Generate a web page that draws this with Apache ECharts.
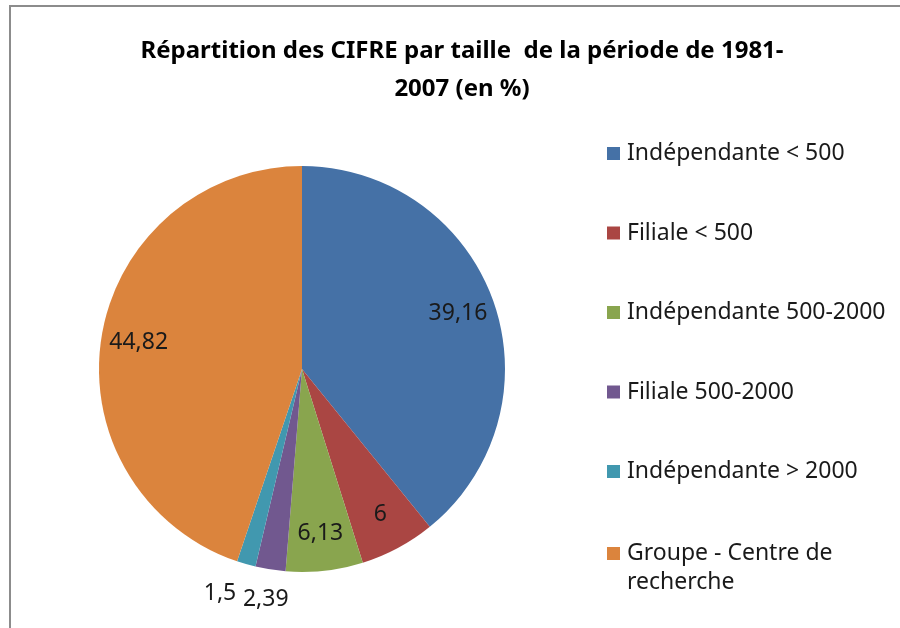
<!DOCTYPE html>
<html>
<head>
<meta charset="utf-8">
<script src="https://cdn.jsdelivr.net/npm/echarts@6/dist/echarts.min.js"></script>
<style>
  html, body { margin: 0; padding: 0; background: #fff; }
  #chart { width: 900px; height: 628px; }
</style>
</head>
<body>
<div id="chart"></div>
<script>
// categories and values (percent)
var categories = ['Indépendante < 500', 'Filiale < 500', 'Indépendante 500-2000',
                  'Filiale 500-2000', 'Indépendante > 2000', 'Groupe - Centre de recherche'];
var values = [39.16, 6, 6.13, 2.39, 1.5, 44.82];
var labelsText = ['39,16', '6', '6,13', '2,39', '1,5', '44,82'];
var colors = ['#4571A6', '#AA4643', '#89A54E', '#71588F', '#4198AF', '#DB843D'];
// small slices get their label outside
var outsideLabel = [false, false, false, true, true, false];

var FONT = '"Noto Sans", sans-serif';

var myChart = echarts.init(document.getElementById('chart'));

var mainData = [], ringData = [];
for (var i = 0; i < categories.length; i++) {
    mainData.push({
        name: categories[i],
        value: values[i],
        itemStyle: { color: colors[i] },
        label: { show: outsideLabel[i], formatter: labelsText[i] },
        // teal label sits a bit further left than the purple one
        labelLine: { length2: i === 4 ? 18 : 0 }
    });
    ringData.push({
        name: categories[i],
        value: values[i],
        label: { show: !outsideLabel[i], formatter: labelsText[i] }
    });
}

var legendText = {
    fontFamily: FONT,
    fontSize: 23,
    color: '#1a1a1a',
    lineHeight: 29,
    padding: [0, 0, 0, 2]
};

var option = {
    animation: false,
    color: colors,
    title: {
        text: 'Répartition des CIFRE par taille  de la période de 1981-\n2007 (en %)',
        left: 457,
        top: 27,
        textAlign: 'center',
        textStyle: {
            fontFamily: FONT,
            fontSize: 24,
            fontWeight: 'bold',
            color: '#000',
            lineHeight: 38
        }
    },
    legend: [
        {
            orient: 'vertical',
            left: 602,
            top: 134,
            itemWidth: 13,
            itemHeight: 13,
            itemGap: 50.5,
            icon: 'rect',
            data: categories.slice(0, 5),
            textStyle: legendText
        },
        {
            // last entry wraps on two lines, icon stays on the first one
            orient: 'vertical',
            left: 602,
            top: 505,
            itemWidth: 13,
            itemHeight: 13,
            icon: 'rect',
            data: categories.slice(5),
            formatter: function (name) {
                return '\nGroupe - Centre de\nrecherche';
            },
            textStyle: legendText
        }
    ],
    graphic: [{
        type: 'rect',
        shape: { x: 10, y: 6, width: 1000, height: 700 },
        style: { fill: 'none', stroke: '#8c8c8c', lineWidth: 2 },
        silent: true,
        z: -10
    }],
    series: [
        {
            name: 'CIFRE',
            type: 'pie',
            center: [302, 369],
            radius: [0, 203],
            startAngle: 90,
            clockwise: true,
            avoidLabelOverlap: false,
            data: mainData,
            label: {
                position: 'outside',
                fontFamily: FONT,
                fontSize: 23,
                color: '#1a1a1a',
                distanceToLabelLine: 0
            },
            labelLine: { show: false, length: 30, length2: 0 },
            labelLayout: function () {
                return { align: 'center', verticalAlign: 'middle', hideOverlap: false };
            },
            emphasis: { disabled: true }
        },
        {
            name: 'labels',
            type: 'pie',
            center: [302, 369],
            radius: [122, 203],
            startAngle: 90,
            clockwise: true,
            silent: true,
            data: ringData,
            itemStyle: { color: 'rgba(0,0,0,0)' },
            label: {
                position: 'inside',
                fontFamily: FONT,
                fontSize: 23,
                color: '#1a1a1a'
            },
            labelLine: { show: false },
            emphasis: { disabled: true }
        }
    ]
};
myChart.setOption(option);
</script>
</body>
</html>
